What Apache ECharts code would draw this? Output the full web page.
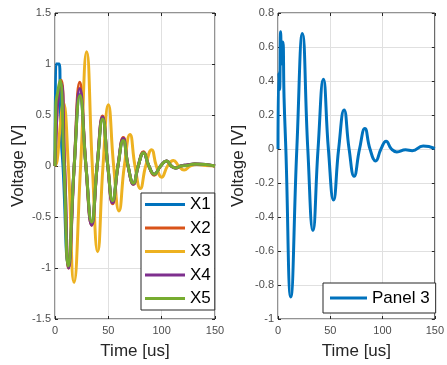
<!DOCTYPE html>
<html>
<head>
<meta charset="utf-8">
<script src="https://cdn.jsdelivr.net/npm/echarts@6/dist/echarts.min.js"></script>
<style>html,body{margin:0;padding:0;background:#fff}#c{width:447px;height:365px}</style>
</head>
<body>
<div id="c"></div>
<script>
// ---- data ----
var seriesNames = ['X1', 'X2', 'X3', 'X4', 'X5'];
var panel3Name = 'Panel 3';
var xTicks = [0, 50, 100, 150];
var leftYTicks = [-1.5, -1, -0.5, 0, 0.5, 1, 1.5];
var rightYTicks = [-1, -0.8, -0.6, -0.4, -0.2, 0, 0.2, 0.4, 0.6, 0.8];

var t1 = [0, 0.8, 1.5, 4.0, 5.0, 6.0, 7.5, 12.5, 18, 23.4, 29, 34.4, 39.5, 44.7, 49.5, 54, 59, 64, 68.5, 73.5, 78, 83, 88, 93, 99, 104.7, 109, 113, 118, 124, 131, 141, 150];
var v1 = [0, 1.0, 1.0, 1.0, 0.6, 0.25, 0, -0.97, 0, 0.70, 0, -0.56, 0, 0.47, 0, -0.35, 0, 0.26, 0, -0.17, 0, 0.13, 0, -0.08, 0, 0.05, 0, -0.02, 0, 0.01, 0.02, 0.015, 0];

var t2 = [0, 1.0, 3.0, 5.8, 9.0, 12.8, 18, 23.2, 29, 34.4, 39.5, 44.6, 49.5, 54, 59, 64, 68.5, 73.5, 78, 83, 88, 93, 99, 104.7, 109, 113, 118, 124, 131, 141, 150];
var v2 = [0, 0.3, 0.7, 0.84, 0, -1.0, 0, 0.82, 0, -0.58, 0, 0.49, 0, -0.37, 0, 0.28, 0, -0.18, 0, 0.14, 0, -0.09, 0, 0.05, 0, -0.02, 0, 0.01, 0.02, 0.015, 0];

var t3 = [0, 2.0, 4.5, 7.8, 12.5, 17.8, 24, 29.7, 35, 40, 45, 50, 55, 60, 65, 70.3, 75, 80, 85, 90.6, 95, 100, 105.5, 111, 116, 121, 127, 133, 141, 150];
var v3 = [0, 0.05, 0.35, 0.62, 0, -1.14, 0, 1.12, 0, -0.84, 0, 0.60, 0, -0.44, 0, 0.31, 0, -0.22, 0, 0.16, 0, -0.11, 0, 0.055, 0, -0.04, 0, 0.015, 0.005, 0];

var t4 = [0, 1.0, 3.0, 5.8, 9.0, 12.8, 18, 23.3, 29, 34.4, 39.5, 44.6, 49.5, 54, 59, 64, 68.5, 73.5, 78, 83, 88, 93, 99, 104.7, 109, 113, 118, 124, 131, 141, 150];
var v4 = [0, 0.3, 0.68, 0.81, 0, -1.0, 0, 0.76, 0, -0.58, 0, 0.48, 0, -0.36, 0, 0.27, 0, -0.18, 0, 0.13, 0, -0.08, 0, 0.05, 0, -0.02, 0, 0.01, 0.02, 0.015, 0];

var t5 = [0, 0.8, 2.5, 4.7, 8.5, 12.5, 18, 23.4, 29, 34.4, 39.5, 44.7, 49.5, 54, 59, 64, 68.5, 73.5, 78, 83, 88, 93, 99, 104.7, 109, 113, 118, 124, 131, 141, 150];
var v5 = [0, 0.6, 0.72, 0.84, 0, -0.98, 0, 0.69, 0, -0.55, 0, 0.46, 0, -0.34, 0, 0.25, 0, -0.17, 0, 0.13, 0, -0.08, 0, 0.05, 0, -0.02, 0, 0.005, 0.02, 0.015, 0];

var tp = [0, 0.7, 1.5, 2.5, 3.5, 4.7, 5.8, 7.5, 12.2, 18, 23.4, 28.5, 33.4, 38.3, 43.4, 48.2, 53.1, 58, 63.2, 68, 72.8, 78, 83.1, 88, 93.4, 98.5, 103.4, 108.5, 113.7, 122, 128.4, 138.8, 150];
var vp = [0, 0.45, 0.35, 0.69, 0.5, 0.63, 0.3, 0, -0.87, 0, 0.68, 0, -0.48, 0, 0.41, 0, -0.30, 0, 0.23, 0, -0.16, 0, 0.12, 0, -0.07, 0, 0.046, 0, -0.017, -0.005, -0.01, 0.017, 0.003];

var colors = ['#0072BD', '#D95319', '#EDB120', '#7E2F8E', '#77AC30'];

function zip(t, v) { return t.map(function (x, i) { return [x, v[i]]; }); }

var FONT = '"Liberation Sans", Arial, sans-serif';
var tickColor = '#4d4d4d';
var frame = '#262626';

function xAx(gi, pos, labels) {
  return {
    type: 'value', gridIndex: gi, position: pos, min: xTicks[0], max: xTicks[xTicks.length - 1], interval: 50,
    name: labels ? 'Time [us]' : '', nameLocation: 'middle', nameGap: 24,
    nameTextStyle: { fontFamily: FONT, fontSize: 17, color: frame },
    axisLine: { show: false, onZero: false },
    axisTick: { show: true, inside: true, length: 3, lineStyle: { color: frame } },
    axisLabel: { show: labels, margin: 6, fontFamily: FONT, fontSize: 11, color: tickColor },
    splitLine: { show: labels, lineStyle: { color: '#e0e0e0', width: 1 } }
  };
}
function yAx(gi, pos, labels, mn, mx, iv, gap) {
  return {
    type: 'value', gridIndex: gi, position: pos, min: mn, max: mx, interval: iv,
    name: labels ? 'Voltage [V]' : '', nameLocation: 'middle', nameGap: gap,
    nameTextStyle: { fontFamily: FONT, fontSize: 17, color: frame },
    axisLine: { show: false, onZero: false },
    axisTick: { show: true, inside: true, length: 3, lineStyle: { color: frame } },
    axisLabel: { show: labels, margin: 4, fontFamily: FONT, fontSize: 11, color: tickColor },
    splitLine: { show: labels, lineStyle: { color: '#e0e0e0', width: 1 } }
  };
}

var leftData = [zip(t1, v1), zip(t2, v2), zip(t3, v3), zip(t4, v4), zip(t5, v5)];
var series = seriesNames.map(function (n, i) {
  return {
    name: n, type: 'line', xAxisIndex: 0, yAxisIndex: 0, data: leftData[i],
    showSymbol: false, symbol: 'none', smooth: 0.5,
    lineStyle: { width: 3, color: colors[i] }, itemStyle: { color: colors[i] }, z: 3 + i
  };
});
series.push({
  name: panel3Name, type: 'line', xAxisIndex: 2, yAxisIndex: 2, data: zip(tp, vp),
  showSymbol: false, symbol: 'none', smooth: 0.5,
  lineStyle: { width: 3, color: colors[0] }, itemStyle: { color: colors[0] }, z: 3
});

var chart = echarts.init(document.getElementById('c'), null, { renderer: 'canvas' });
chart.setOption({
  animation: false,
  backgroundColor: '#fff',
  grid: [
    { left: 55, top: 13, width: 160, height: 307, show: true, borderColor: frame, borderWidth: 1, backgroundColor: 'transparent' },
    { left: 278, top: 13, width: 160, height: 307, show: true, borderColor: frame, borderWidth: 1, backgroundColor: 'transparent' }
  ],
  xAxis: [xAx(0, 'bottom', true), xAx(0, 'top', false), xAx(1, 'bottom', true), xAx(1, 'top', false)],
  yAxis: [
    yAx(0, 'left', true, leftYTicks[0], leftYTicks[leftYTicks.length - 1], 0.5, 28),
    yAx(0, 'right', false, leftYTicks[0], leftYTicks[leftYTicks.length - 1], 0.5, 28),
    yAx(1, 'left', true, rightYTicks[0], rightYTicks[rightYTicks.length - 1], 0.2, 31),
    yAx(1, 'right', false, rightYTicks[0], rightYTicks[rightYTicks.length - 1], 0.2, 31)
  ],
  legend: [
    {
      data: seriesNames.map(function (n) { return { name: n, icon: 'rect' }; }),
      orient: 'vertical', left: 141, top: 193, padding: [3, 4, 3, 4],
      itemWidth: 40, itemHeight: 3, itemGap: 6.5,
      backgroundColor: '#fff', borderColor: frame, borderWidth: 1, borderRadius: 0,
      textStyle: { fontFamily: FONT, fontSize: 17, lineHeight: 17, color: '#000' },
      selectedMode: false
    },
    {
      data: [{ name: panel3Name, icon: 'rect' }],
      orient: 'vertical', left: 323, top: 283, padding: [6.5, 6, 6.5, 7],
      itemWidth: 37, itemHeight: 3,
      backgroundColor: '#fff', borderColor: frame, borderWidth: 1, borderRadius: 0,
      textStyle: { fontFamily: FONT, fontSize: 17, lineHeight: 17, color: '#000' },
      selectedMode: false
    }
  ],
  series: series
});
</script>
</body>
</html>
